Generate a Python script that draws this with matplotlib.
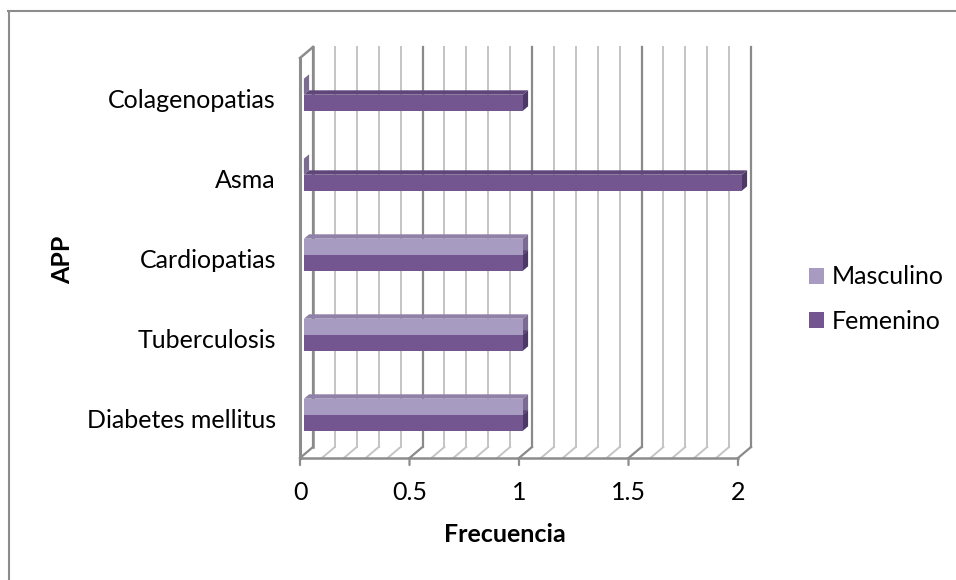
import matplotlib
matplotlib.use("Agg")
import matplotlib.pyplot as plt
from matplotlib.patches import Polygon, Patch

categories = ["Diabetes mellitus", "Tuberculosis", "Cardiopatias", "Asma", "Colagenopatias"]
masculino = [1, 1, 1, 0, 0]
femenino = [1, 1, 1, 2, 1]
series_names = ["Masculino", "Femenino"]
x_ticks = [0, 0.5, 1, 1.5, 2]
x_tick_labels = ["0", "0.5", "1", "1.5", "2"]

FONT = "Lato"
FS = 18
W, H = 956, 580

fig = plt.figure(figsize=(W / 100, H / 100), dpi=100)
fig.patch.set_facecolor("white")

# front plane of the 3-D plot box (pixels)
left_px, right_px, top_px, bot_px = 300, 738, 58, 458
ax = fig.add_axes([left_px / W, 1 - bot_px / H, (right_px - left_px) / W, (bot_px - top_px) / H])
ax.set_xlim(0, 2)
ax.set_ylim(-0.5, len(categories) - 0.5)
ax.axis("off")

# depth offset of the box, converted to data units
depth_px = (13, 11)
ddx = depth_px[0] * 2 / (right_px - left_px)
ddy = depth_px[1] * len(categories) / (bot_px - top_px)
y0, y1 = -0.5, len(categories) - 0.5

major_c, minor_c, wall_c = "#8a8a8a", "#c4c4c4", "#8c8c8c"

# back wall and floor gridlines every 0.1
for i in range(21):
    xv = i * 0.1
    major = i % 5 == 0
    c = major_c if major else minor_c
    lw = 1.6 if major else 1.4
    ax.plot([xv + ddx, xv + ddx], [y0 + ddy, y1 + ddy], color=c, lw=lw, clip_on=False, zorder=1)
    ax.plot([xv, xv + ddx], [y0, y0 + ddy], color=c, lw=lw, clip_on=False, zorder=1)

# left side wall
ax.plot([0, 0], [y0, y1], color=wall_c, lw=2.2, clip_on=False, zorder=1)
ax.plot([0, ddx], [y1, y1 + ddy], color=wall_c, lw=1.8, clip_on=False, zorder=1)
ax.plot([ddx, ddx], [y0 + ddy, y1 + ddy], color=wall_c, lw=1.8, clip_on=False, zorder=1)

# front axis with ticks
ax.plot([0, 2], [y0, y0], color="#8c8c8c", lw=1.8, clip_on=False, zorder=1)
for t, lab in zip(x_ticks, x_tick_labels):
    ax.annotate("", xy=(t, y0), xytext=(0, -7), textcoords="offset pixels",
                arrowprops=dict(arrowstyle="-", color="#8c8c8c", lw=1.6, shrinkA=0, shrinkB=0))
    ax.annotate(lab, xy=(t, y0), xytext=(0, -35), textcoords="offset pixels",
                ha="center", va="center", fontsize=FS, family=FONT, color="#000000")

# bars
face = {"Masculino": "#a89bc1", "Femenino": "#735590"}
top = {"Masculino": "#8f81a8", "Femenino": "#5f4579"}
side = {"Masculino": "#7a6b93", "Femenino": "#4d3965"}
f1, f2 = 0.3, 0.7
bh = 0.2

def draw_bar(val, yb, name):
    ox1, oy1 = f1 * ddx, f1 * ddy
    ox2, oy2 = f2 * ddx, f2 * ddy
    yt = yb + bh
    # top face
    ax.add_patch(Polygon([(ox1, yt + oy1), (val + ox1, yt + oy1), (val + ox2, yt + oy2), (ox2, yt + oy2)],
                         closed=True, facecolor=top[name], edgecolor="none", zorder=3, clip_on=False))
    # side face
    ax.add_patch(Polygon([(val + ox1, yb + oy1), (val + ox2, yb + oy2), (val + ox2, yt + oy2), (val + ox1, yt + oy1)],
                         closed=True, facecolor=side[name], edgecolor="none", zorder=3, clip_on=False))
    # front face
    if val > 0:
        ax.barh(yb + oy1, val, height=bh, left=ox1, align="edge", color=face[name], zorder=4, clip_on=False)

for i in range(len(categories)):
    draw_bar(masculino[i], i, "Masculino")
    draw_bar(femenino[i], i - bh, "Femenino")

# category labels
for i, c in enumerate(categories):
    ax.annotate(c, xy=(0, i), xytext=(-24, -3), textcoords="offset pixels",
                ha="right", va="center", fontsize=FS, family=FONT, color="#000000")

# axis titles
fig.text(505 / W, 1 - 534 / H, "Frecuencia", ha="center", va="center",
         fontsize=FS, family=FONT, fontweight="bold")
fig.text(63 / W, 1 - 260 / H, "APP", ha="center", va="center", rotation=90,
         fontsize=FS, family=FONT, fontweight="bold")

# legend
handles = [Patch(facecolor=face[n], edgecolor="none") for n in series_names]
fig.legend(handles, series_names, loc="center left", bbox_to_anchor=(799 / W, 1 - 299 / H),
           frameon=False, prop={"family": FONT, "size": FS}, handlelength=0.6, handleheight=0.6,
           handletextpad=0.32, labelspacing=0.85, borderpad=0.4, borderaxespad=0)

# chart area border (top and left edges)
fig.add_artist(plt.Line2D([8 / W, 1], [1 - 11 / H, 1 - 11 / H], transform=fig.transFigure, color="#8c8c8c", lw=1.5))
fig.add_artist(plt.Line2D([9 / W, 9 / W], [1 - 11 / H, 0], transform=fig.transFigure, color="#8c8c8c", lw=1.5))

fig.savefig("out.png", dpi=100, facecolor="white")
